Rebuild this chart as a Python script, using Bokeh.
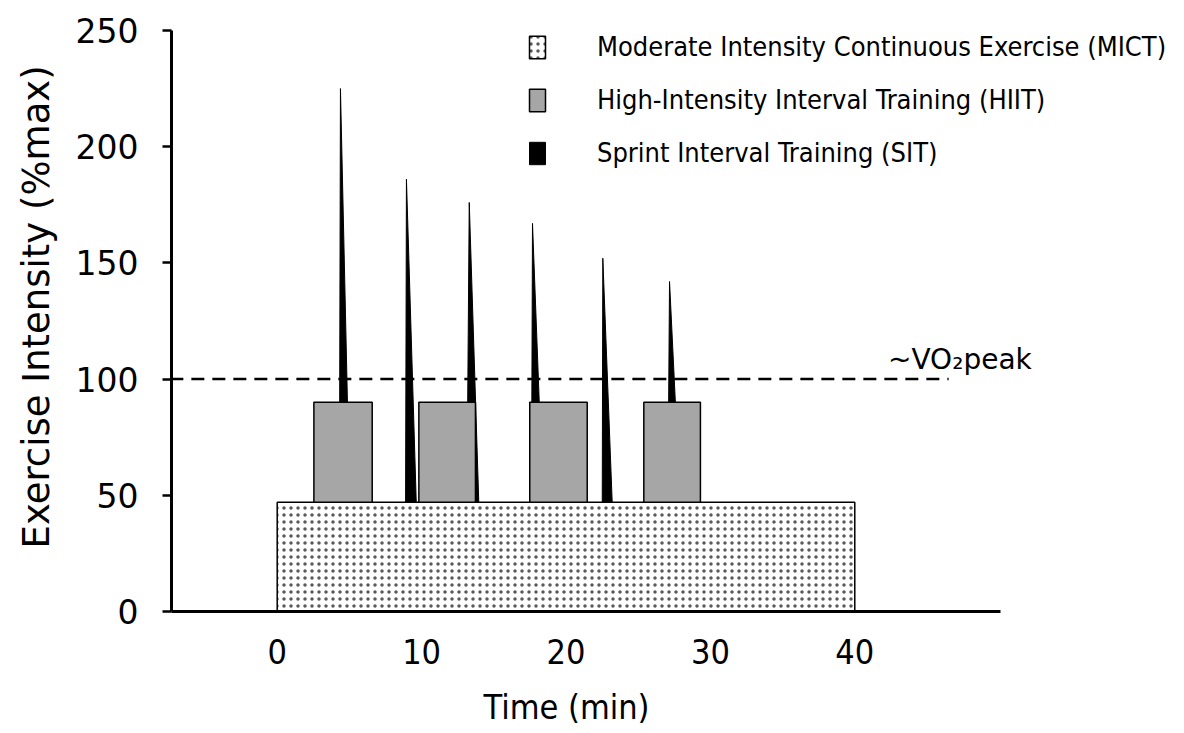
from bokeh.plotting import figure
from bokeh.models import Legend, LegendItem, FixedTicker, Range1d, Title
from bokeh.embed import file_html
from bokeh.resources import INLINE
from bokeh.core.properties import value

# ---------------- data ----------------
mict_start = [0]
mict_end = [40]
mict_intensity = [47]

hiit_start = [2.54, 9.81, 17.49, 25.39]
hiit_end = [6.58, 13.73, 21.47, 29.31]
hiit_intensity = [90, 90, 90, 90]

sit_peak_time = [4.38, 8.95, 13.30, 17.68, 22.55, 27.17]
sit_peak_intensity = [225, 186, 176, 167, 152, 142]
sit_base_start = [4.31, 8.89, 13.14, 17.61, 22.51, 27.06]
sit_base_end = [5.02, 9.63, 13.96, 18.41, 23.20, 27.91]

vo2_level = 100
vo2_time = [-7.4, 46.5]
vo2_label = "~VO\u2082peak"
vo2_label_pos = (42.3, 108.5)

x_ticks = [0, 10, 20, 30, 40]
y_ticks = [0, 50, 100, 150, 200, 250]
x_axis_extent = (-7.32, 50.06)

x_title = "Time (min)"
y_title = "Exercise Intensity (%max)"
legend_labels = [
    "Moderate Intensity Continuous Exercise (MICT)",
    "High-Intensity Interval Training (HIIT)",
    "Sprint Interval Training (SIT)",
]

# ---------------- figure ----------------
p = figure(
    output_backend="svg", toolbar_location=None,
    frame_width=1005, frame_height=581,
    min_border_left=171, min_border_right=0,
    min_border_top=30, min_border_bottom=110,
    x_range=Range1d(-7.32, 62.28), y_range=Range1d(0, 250),
)
p.outline_line_color = None
p.grid.visible = False
p.background_fill_color = "white"
p.border_fill_color = "white"

# MICT
mict = p.quad(left=mict_start, right=mict_end, bottom=[0] * len(mict_start), top=mict_intensity,
              fill_color="white", line_color="black", line_width=1.5,
              hatch_pattern="dot", hatch_color="black", hatch_scale=7, hatch_weight=1.0, hatch_alpha=0.65)

# SIT spikes
base = mict_intensity[0]
xs = [[t, r, l] for t, l, r in zip(sit_peak_time, sit_base_start, sit_base_end)]
ys = [[h, base, base] for h in sit_peak_intensity]
sit = p.patches(xs=xs, ys=ys, fill_color="black", line_color="black", line_width=1)

# HIIT
hiit = p.quad(left=hiit_start, right=hiit_end, bottom=[base] * len(hiit_start), top=hiit_intensity,
              fill_color="#a6a6a6", line_color="black", line_width=1.5)

# VO2peak line
p.line(x=vo2_time, y=[vo2_level, vo2_level], line_color="black", line_width=2.5, line_dash="13 8")
p.text(x=[vo2_label_pos[0]], y=[vo2_label_pos[1]], text=[vo2_label],
       text_font=value("DejaVu Sans"), text_font_size="28px", text_color="black",
       text_align="left", text_baseline="alphabetic")

# axes
xa = p.xaxis[0]
xa.ticker = FixedTicker(ticks=x_ticks)
xa.bounds = x_axis_extent
xa.axis_line_width = 3
xa.axis_line_color = "black"
xa.major_tick_out = 0
xa.major_tick_in = 0
xa.minor_tick_out = 0
xa.minor_tick_in = 0
xa.major_label_text_font = "DejaVu Sans Condensed"
xa.major_label_text_font_size = "34px"
xa.major_label_text_color = "black"
xa.major_label_standoff = 27

ya = p.yaxis[0]
ya.ticker = FixedTicker(ticks=y_ticks)
ya.axis_line_width = 3
ya.axis_line_color = "black"
ya.major_tick_out = 9
ya.major_tick_in = 0
ya.major_tick_line_width = 2.5
ya.minor_tick_out = 0
ya.minor_tick_in = 0
ya.major_label_text_font = "DejaVu Sans"
ya.major_label_text_font_size = "33px"
ya.major_label_text_color = "black"
ya.major_label_standoff = 24

# axis titles as side-panel titles so they can be positioned freely
p.add_layout(Title(text=x_title, align="left", offset=312, standoff=36,
                   text_font="DejaVu Sans Condensed", text_font_size="34px",
                   text_font_style="normal", text_color="black"), "below")
p.add_layout(Title(text=y_title, align="left", offset=63, standoff=26,
                   vertical_align="top",
                   text_font="DejaVu Sans", text_font_size="37px",
                   text_font_style="normal", text_color="black"), "left")

legend = Legend(
    items=[LegendItem(label=legend_labels[0], renderers=[mict]),
           LegendItem(label=legend_labels[1], renderers=[hiit]),
           LegendItem(label=legend_labels[2], renderers=[sit])],
    location=(356, 443), padding=0, margin=0, spacing=22,
    glyph_width=20, glyph_height=28, label_height=26, label_standoff=50,
    label_text_font="DejaVu Sans Condensed", label_text_font_size="27px",
    label_text_color="black",
    border_line_color=None, background_fill_alpha=0,
)
p.add_layout(legend)

open("out.html", "w").write(file_html(p, INLINE))
